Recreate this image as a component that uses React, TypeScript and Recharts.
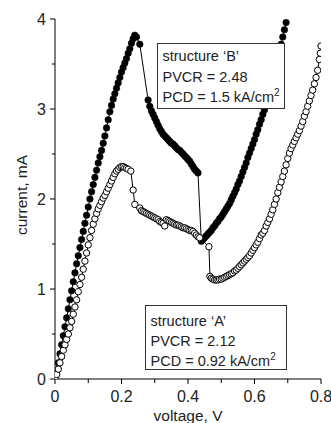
import { LineChart, Line, XAxis, YAxis } from "recharts";

// structure 'B' (filled circles): [voltage V, current mA]
const bRise: [number, number][] = [
  [0, 0], [0.005, 0.08], [0.01, 0.18], [0.015, 0.28], [0.02, 0.38], [0.025, 0.48],
  [0.03, 0.58], [0.035, 0.68], [0.04, 0.78], [0.045, 0.88], [0.05, 0.98], [0.055, 1.08],
  [0.06, 1.18], [0.065, 1.28], [0.07, 1.37], [0.075, 1.46], [0.08, 1.55], [0.085, 1.64],
  [0.09, 1.73], [0.095, 1.82], [0.1, 1.91], [0.105, 2.0], [0.11, 2.08], [0.115, 2.16],
  [0.12, 2.24], [0.125, 2.32], [0.13, 2.4], [0.135, 2.47], [0.14, 2.54], [0.145, 2.62],
  [0.15, 2.7], [0.155, 2.79], [0.16, 2.88], [0.165, 2.97], [0.17, 3.04], [0.175, 3.11],
  [0.18, 3.17], [0.185, 3.23], [0.19, 3.29], [0.195, 3.35], [0.2, 3.41], [0.205, 3.46],
  [0.21, 3.51], [0.215, 3.56], [0.22, 3.62], [0.225, 3.67], [0.23, 3.73], [0.235, 3.78],
  [0.24, 3.82],
];
const bFall: [number, number][] = [
  [0.245, 3.8], [0.255, 3.72], [0.28, 3.1], [0.285, 3.03], [0.29, 2.98], [0.295, 2.94],
  [0.3, 2.9], [0.305, 2.86], [0.31, 2.82], [0.315, 2.78], [0.32, 2.75], [0.325, 2.72],
  [0.33, 2.7], [0.335, 2.68], [0.34, 2.66], [0.345, 2.64], [0.35, 2.62], [0.355, 2.61],
  [0.36, 2.59], [0.365, 2.57], [0.37, 2.55], [0.375, 2.54], [0.38, 2.52], [0.385, 2.5],
  [0.39, 2.48], [0.395, 2.46], [0.4, 2.44], [0.405, 2.42], [0.41, 2.39], [0.415, 2.36],
  [0.42, 2.33], [0.425, 2.31], [0.43, 2.29],
];
const bRecover: [number, number][] = [
  [0.44, 1.53], [0.445, 1.55], [0.45, 1.57], [0.455, 1.59], [0.46, 1.61], [0.465, 1.63],
  [0.47, 1.65], [0.475, 1.68], [0.48, 1.7], [0.485, 1.73], [0.49, 1.75], [0.495, 1.78],
  [0.5, 1.8], [0.505, 1.83], [0.51, 1.86], [0.515, 1.89], [0.52, 1.92], [0.525, 1.95],
  [0.53, 1.99], [0.535, 2.03], [0.54, 2.07], [0.545, 2.11], [0.55, 2.16], [0.555, 2.2],
  [0.56, 2.25], [0.565, 2.3], [0.57, 2.35], [0.575, 2.4], [0.58, 2.46], [0.585, 2.51],
  [0.59, 2.56], [0.595, 2.61], [0.6, 2.66], [0.605, 2.72], [0.61, 2.77], [0.615, 2.83],
  [0.62, 2.88], [0.625, 2.94], [0.63, 2.99], [0.635, 3.06], [0.64, 3.12], [0.645, 3.19],
  [0.65, 3.26], [0.655, 3.33], [0.66, 3.41], [0.665, 3.48], [0.67, 3.56], [0.675, 3.64],
  [0.68, 3.72], [0.685, 3.8], [0.69, 3.88], [0.695, 3.96],
];

// structure 'A' (open circles)
const aRise: [number, number][] = [
  [0, 0], [0.005, 0.05], [0.01, 0.11], [0.015, 0.18], [0.02, 0.25], [0.025, 0.32],
  [0.03, 0.38], [0.035, 0.44], [0.04, 0.5], [0.045, 0.57], [0.05, 0.64], [0.055, 0.72],
  [0.06, 0.8], [0.065, 0.88], [0.07, 0.97], [0.075, 1.05], [0.08, 1.13], [0.085, 1.22],
  [0.09, 1.31], [0.095, 1.4], [0.1, 1.49], [0.105, 1.57], [0.11, 1.65], [0.115, 1.72],
  [0.12, 1.78], [0.125, 1.84], [0.13, 1.89], [0.135, 1.93], [0.14, 1.97], [0.145, 2.01],
  [0.15, 2.04], [0.155, 2.08], [0.16, 2.12], [0.165, 2.16], [0.17, 2.2], [0.175, 2.24],
  [0.18, 2.28], [0.185, 2.31], [0.19, 2.33], [0.195, 2.35], [0.2, 2.36], [0.205, 2.36],
  [0.21, 2.35], [0.215, 2.34], [0.22, 2.33], [0.228, 2.31],
];
const aFall: [number, number][] = [
  [0.235, 2.1], [0.24, 1.94], [0.255, 1.9], [0.26, 1.87], [0.265, 1.86], [0.27, 1.85],
  [0.275, 1.84], [0.28, 1.83], [0.285, 1.82], [0.29, 1.81], [0.295, 1.8], [0.3, 1.79],
  [0.305, 1.78], [0.31, 1.77], [0.315, 1.75], [0.32, 1.74], [0.325, 1.73], [0.33, 1.7],
  [0.335, 1.77], [0.34, 1.76], [0.345, 1.75], [0.35, 1.74], [0.355, 1.73], [0.36, 1.72],
  [0.365, 1.71], [0.37, 1.71], [0.375, 1.7], [0.38, 1.69], [0.385, 1.68], [0.39, 1.68],
  [0.395, 1.67], [0.4, 1.66], [0.405, 1.65], [0.41, 1.65], [0.415, 1.64], [0.42, 1.62],
  [0.425, 1.6], [0.43, 1.58], [0.435, 1.57], [0.463, 1.47],
];
const aRecover: [number, number][] = [
  [0.466, 1.14], [0.47, 1.12], [0.475, 1.11], [0.48, 1.1], [0.485, 1.1], [0.49, 1.1],
  [0.495, 1.11], [0.5, 1.11], [0.505, 1.12], [0.51, 1.13], [0.515, 1.14], [0.52, 1.15],
  [0.525, 1.16], [0.53, 1.17], [0.535, 1.18], [0.54, 1.2], [0.545, 1.21], [0.55, 1.23],
  [0.555, 1.25], [0.56, 1.27], [0.565, 1.29], [0.57, 1.31], [0.575, 1.33], [0.58, 1.35],
  [0.585, 1.37], [0.59, 1.4], [0.595, 1.43], [0.6, 1.46], [0.605, 1.49], [0.61, 1.52],
  [0.615, 1.56], [0.62, 1.6], [0.625, 1.62], [0.63, 1.65], [0.635, 1.7], [0.64, 1.74],
  [0.645, 1.78], [0.65, 1.83], [0.655, 1.88], [0.66, 1.94], [0.665, 2.0], [0.67, 2.07],
  [0.675, 2.13], [0.68, 2.19], [0.685, 2.25], [0.69, 2.31], [0.695, 2.38], [0.7, 2.45],
  [0.705, 2.51], [0.71, 2.56], [0.715, 2.6], [0.72, 2.64], [0.725, 2.68], [0.73, 2.72],
  [0.735, 2.76], [0.74, 2.81], [0.745, 2.86], [0.75, 2.92], [0.755, 2.97], [0.76, 3.03],
  [0.765, 3.09], [0.77, 3.15], [0.775, 3.21], [0.78, 3.28], [0.785, 3.35], [0.79, 3.43],
  [0.795, 3.55], [0.798, 3.62], [0.8, 3.7],
];

const xTicks = [0, 0.1, 0.2, 0.3, 0.4, 0.5, 0.6, 0.7, 0.8];
const xLabels = ["0", "", "0.2", "", "0.4", "", "0.6", "", "0.8"];
const yTicks = [0, 0.5, 1, 1.5, 2, 2.5, 3, 3.5, 4];
const yLabels = ["0", "", "1", "", "2", "", "3", "", "4"];

const boxB = ["structure \u2018B\u2019", "PVCR = 2.48", "PCD = 1.5 kA/cm"];
const boxA = ["structure \u2018A\u2019", "PVCR = 2.12", "PCD = 0.92 kA/cm"];

const toRows = (pts: [number, number][]) => pts.map(([v, i]) => ({ v, i }));
const dataB = toRows([...bRise, ...bFall, ...bRecover]);
const dataA = toRows([...aRise, ...aFall, ...aRecover]);

const FONT = "'Liberation Sans', Arial, Helvetica, sans-serif";
const TEXT = "#222";

function XTick(props: any) {
  const { x, y, index } = props;
  const label = xLabels[index] ?? "";
  return (
    <g>
      <line x1={x} x2={x} y1={y} y2={y + (label ? 5 : 4)} stroke="#000" />
      {label && (
        <text x={x} y={y + 22.5} textAnchor="middle" fontSize={16} fill={TEXT} fontFamily={FONT}>
          {label}
        </text>
      )}
    </g>
  );
}

function YTick(props: any) {
  const { x, y, index } = props;
  const label = yLabels[index] ?? "";
  return (
    <g>
      <line x1={x - (label ? 5 : 3)} x2={x} y1={y} y2={y} stroke="#000" />
      {label && (
        <text x={x - 9} y={y + 6} textAnchor="end" fontSize={16} fill={TEXT} fontFamily={FONT}>
          {label}
        </text>
      )}
    </g>
  );
}

function InfoBox({ x, y, w, h, lines, base, step }: any) {
  return (
    <g>
      <rect x={x} y={y} width={w} height={h} fill="#fff" stroke="#333" strokeWidth={1} />
      {lines.map((t: string, k: number) => (
        <text key={k} x={x + 5} y={base + k * step} fontSize={14.5} fill={TEXT} fontFamily={FONT}>
          {t}
          {k === 2 && (
            <tspan dy={-6} fontSize={10}>
              2
            </tspan>
          )}
        </text>
      ))}
    </g>
  );
}

export default function App() {
  return (
    <div style={{ position: "absolute", left: 0, top: 0, width: 331, height: 423, background: "#fff" }}>
      <LineChart width={331} height={423} margin={{ top: 19, right: 10, bottom: 0, left: 0 }}>
        <XAxis
          type="number"
          dataKey="v"
          domain={[0, 0.8]}
          ticks={xTicks}
          interval={0}
          allowDataOverflow
          height={44}
          tickSize={0}
          tickMargin={0}
          tickLine={false}
          axisLine={{ stroke: "#000" }}
          tick={<XTick />}
        />
        <YAxis
          type="number"
          domain={[0, 4]}
          ticks={yTicks}
          interval={0}
          allowDataOverflow
          width={55}
          tickSize={0}
          tickMargin={0}
          tickLine={false}
          axisLine={{ stroke: "#000" }}
          tick={<YTick />}
        />
        <Line
          data={dataB}
          dataKey="i"
          type="linear"
          stroke="#000"
          strokeWidth={1}
          dot={{ r: 3.3, fill: "#000", stroke: "#000", strokeWidth: 0.5 }}
          isAnimationActive={false}
        />
        <Line
          data={dataA}
          dataKey="i"
          type="linear"
          stroke="#000"
          strokeWidth={1}
          dot={{ r: 3.2, fill: "#fff", stroke: "#000", strokeWidth: 1 }}
          isAnimationActive={false}
        />
      </LineChart>
      <svg
        width={331}
        height={423}
        style={{ position: "absolute", left: 0, top: 0, pointerEvents: "none" }}
      >
        <InfoBox x={157.5} y={43.5} w={127} h={65} lines={boxB} base={61} step={20.5} />
        <InfoBox x={145.5} y={305.5} w={141} h={64} lines={boxA} base={326} step={20} />
        <text x={188} y={421} textAnchor="middle" fontSize={15.5} fill={TEXT} fontFamily={FONT}>
          voltage, V
        </text>
        <text
          x={26.5}
          y={195}
          transform="rotate(-90 26.5 195)"
          textAnchor="middle"
          fontSize={15.5}
          fill={TEXT}
          fontFamily={FONT}
        >
          current, mA
        </text>
      </svg>
    </div>
  );
}
